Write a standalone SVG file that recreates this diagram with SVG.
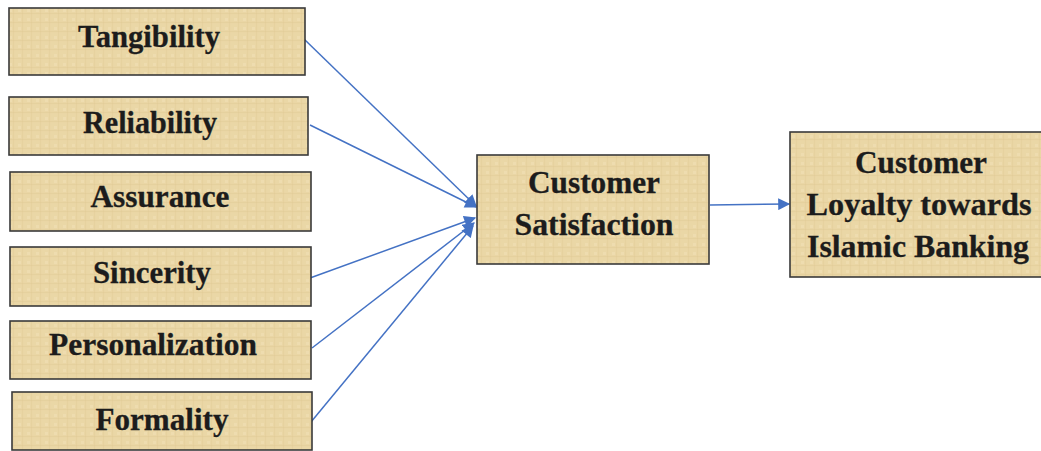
<svg xmlns="http://www.w3.org/2000/svg" width="1041" height="451" viewBox="0 0 1041 451">
  <defs>
    <pattern id="parch" width="9" height="9" patternUnits="userSpaceOnUse">
      <rect width="9" height="9" fill="#EAD7A6"/>
      <path d="M0 4.5H9" stroke="#DCC58E" stroke-width="1.2" opacity="0.35"/>
      <path d="M4.5 0V9" stroke="#DAC38B" stroke-width="1.2" opacity="0.25"/>
      <rect x="0" y="0" width="3" height="3" fill="#F2E2B8" opacity="0.5"/>
    </pattern>
    <marker id="arr" viewBox="0 0 10 10" refX="9" refY="5" markerWidth="8.5" markerHeight="8" orient="auto" markerUnits="strokeWidth">
      <path d="M0 0L10 5L0 10z" fill="#4472C4"/>
    </marker>
  </defs>
  <style>
    .box { fill: url(#parch); stroke: #3a3a3a; stroke-width: 1.6; }
    .lbl { font-family: "Liberation Serif", "Times New Roman", serif; font-weight: bold; font-size: 31px; fill: #1c1c1c; stroke: #1c1c1c; stroke-width: 0.3; text-anchor: middle; }
    .con { stroke: #4472C4; stroke-width: 1.5; fill: none; }
  </style>

  <g id="connectors">
    <line class="con" x1="304" y1="39" x2="476" y2="206" marker-end="url(#arr)"/>
    <line class="con" x1="310" y1="125" x2="476" y2="207" marker-end="url(#arr)"/>
    <line class="con" x1="310" y1="278" x2="475" y2="218" marker-end="url(#arr)"/>
    <line class="con" x1="312" y1="348" x2="474" y2="223" marker-end="url(#arr)"/>
    <line class="con" x1="311" y1="422" x2="473" y2="226" marker-end="url(#arr)"/>
    <line class="con" x1="710" y1="205" x2="789" y2="204" marker-end="url(#arr)"/>
  </g>

  <g id="tangibility">
    <rect class="box" x="9" y="8" width="296" height="67"/>
    <text class="lbl" x="149" y="47" textLength="142" lengthAdjust="spacingAndGlyphs">Tangibility</text>
  </g>
  <g id="reliability">
    <rect class="box" x="9" y="97" width="299" height="58"/>
    <text class="lbl" x="150" y="133" textLength="134" lengthAdjust="spacingAndGlyphs">Reliability</text>
  </g>
  <g id="assurance">
    <rect class="box" x="10" y="172" width="301" height="59"/>
    <text class="lbl" x="160" y="207" textLength="139" lengthAdjust="spacingAndGlyphs">Assurance</text>
  </g>
  <g id="sincerity">
    <rect class="box" x="10" y="247" width="301" height="59"/>
    <text class="lbl" x="152" y="283" textLength="118" lengthAdjust="spacingAndGlyphs">Sincerity</text>
  </g>
  <g id="personalization">
    <rect class="box" x="10" y="321" width="301" height="58"/>
    <text class="lbl" x="153" y="355" textLength="208" lengthAdjust="spacingAndGlyphs">Personalization</text>
  </g>
  <g id="formality">
    <rect class="box" x="12" y="392" width="300" height="58"/>
    <text class="lbl" x="162" y="430" textLength="133" lengthAdjust="spacingAndGlyphs">Formality</text>
  </g>
  <g id="customer-satisfaction">
    <rect class="box" x="477" y="155" width="232" height="109"/>
    <text class="lbl" x="594" y="193" textLength="132" lengthAdjust="spacingAndGlyphs">Customer</text>
    <text class="lbl" x="594" y="235" textLength="159" lengthAdjust="spacingAndGlyphs">Satisfaction</text>
  </g>
  <g id="customer-loyalty">
    <rect class="box" x="790" y="132" width="252" height="145"/>
    <text class="lbl" x="921" y="173" textLength="132" lengthAdjust="spacingAndGlyphs">Customer</text>
    <text class="lbl" x="919" y="215" textLength="225" lengthAdjust="spacingAndGlyphs">Loyalty towards</text>
    <text class="lbl" x="918" y="257" textLength="222" lengthAdjust="spacingAndGlyphs">Islamic Banking</text>
  </g>
</svg>
